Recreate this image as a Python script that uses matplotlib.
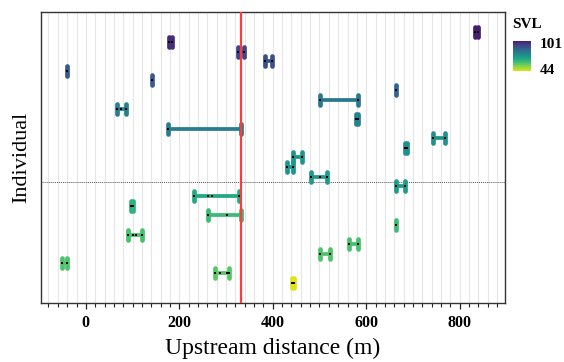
import numpy as np
import matplotlib
matplotlib.use("Agg")
import matplotlib.pyplot as plt
from matplotlib.markers import MarkerStyle
from matplotlib.colors import LinearSegmentedColormap, Normalize
from matplotlib.colorbar import ColorbarBase

# ---- data (top row first) ----
svl = [101, 98, 93, 90, 88, 87, 85, 80, 78, 77, 79, 73, 74, 72, 72, 71, 70,
       67, 64, 62, 61, 60, 60, 59, 59, 58, 44]
positions = [
    [833, 840],
    [178, 185],
    [326, 333, 338],
    [384, 398],
    [-40],
    [141],
    [663],
    [502, 583],
    [66, 75, 85],
    [578, 582],
    [176, 331],
    [743, 768],
    [684, 688],
    [443, 462],
    [431, 443],
    [482, 502, 517],
    [663, 683],
    [231, 261, 270, 328],
    [96, 100],
    [261, 301, 332],
    [663],
    [91, 101, 108, 121],
    [563, 583],
    [502, 523],
    [-50, -41],
    [276, 287, 301, 307],
    [442, 446],
]
dam_position = 333
divider_row = 11.5
x_ticks = [0, 200, 400, 600, 800]
svl_limits = [44, 101]

plt.rcParams['font.family'] = ['Liberation Serif', 'DejaVu Serif']

fig = plt.figure(figsize=(5.64, 3.62), dpi=100)
ax = fig.add_axes([0.0727, 0.1622, 0.8227, 0.8055])

cmap = LinearSegmentedColormap.from_list(
    'vir', plt.cm.viridis(np.linspace(0.95, 0.08, 256)))
norm = Normalize(vmin=svl_limits[0], vmax=svl_limits[1])

# vertical grid every 20 m
for gx in np.arange(-80, 900, 20):
    ax.axvline(gx, color='#e6e6e6', lw=0.8, zorder=0)

ax.axhline(divider_row, color='#555555', lw=0.7, ls=(0, (1, 1)), zorder=1)

n = len(positions)
cap_marker = MarkerStyle('|', capstyle='round')
for i, (pos, s) in enumerate(zip(positions, svl)):
    y = n - i
    c = cmap(norm(s))
    pos = np.array(pos, dtype=float)
    ends = np.unique([pos.min(), pos.max()])
    if len(pos) > 1:
        ax.plot([pos.min(), pos.max()], [y, y], color=c, lw=2.7,
                solid_capstyle='butt', zorder=2)
    ax.plot(ends, np.full(len(ends), y), ls='none', marker=cap_marker,
            ms=6.5, mew=3.4, color=c, zorder=3)
    ax.plot(pos, np.full(len(pos), y), ls='none', marker='s',
            ms=2.0, color='black', mew=0, zorder=4)

ax.axvline(dam_position, color='#ff3b3b', lw=1.6, zorder=5)

ax.set_xlim(-96, 897)
ax.set_ylim(-1.14, n + 2.14)
ax.set_yticks([])
ax.set_xticks(x_ticks)
ax.set_xticks(np.arange(-80, 900, 20), minor=True)
ax.tick_params(axis='x', which='major', length=4.5, width=0.9, color='#222222',
               labelsize=11.5, pad=4)
ax.tick_params(axis='x', which='minor', length=3, width=0.8, color='#222222')
for lab in ax.get_xticklabels():
    lab.set_fontweight('bold')
for sp in ax.spines.values():
    sp.set_color('#333333')
    sp.set_linewidth(1.0)

ax.set_xlabel('Upstream distance (m)', fontsize=17, labelpad=5)
ax.set_ylabel('Individual', fontsize=16, labelpad=7)

# colour legend
cax = fig.add_axes([513 / 564, 1 - 71 / 362, 18 / 564, 30 / 362])
cb = ColorbarBase(cax, cmap=cmap, norm=norm, orientation='vertical')
cb.outline.set_visible(False)
cb.set_ticks([])
fig.text(512 / 564, 1 - 25 / 362, 'SVL', fontsize=11, fontweight='bold',
         va='center', ha='left')
fig.text(540 / 564, 1 - 44 / 362, '101', fontsize=11, fontweight='bold',
         va='center', ha='left')
fig.text(540 / 564, 1 - 70 / 362, '44', fontsize=11, fontweight='bold',
         va='center', ha='left')

fig.savefig('out.png', dpi=100)
